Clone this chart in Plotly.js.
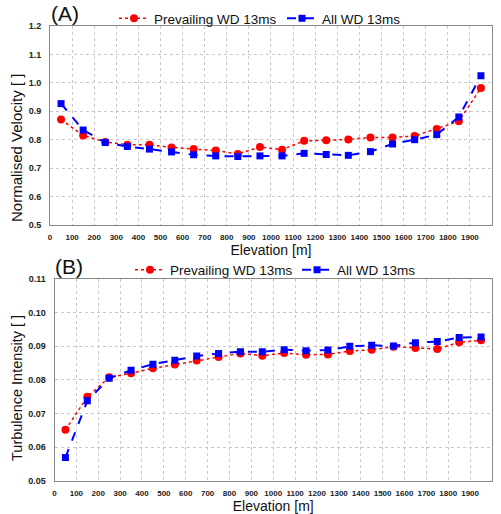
<!DOCTYPE html>
<html>
<head>
<meta charset="utf-8">
<script src="https://cdn.plot.ly/plotly-3.0.1.min.js"></script>
<style>html,body{margin:0;padding:0;background:#fff;}#chart{width:501px;height:514px;}</style>
</head>
<body>
<div id="chart"></div>
<script>
const elevation = [50,150,250,350,450,550,650,750,850,950,1050,1150,1250,1350,1450,1550,1650,1750,1850,1950];
const velPrevailing = [0.871,0.815,0.792,0.782,0.782,0.773,0.767,0.762,0.750,0.774,0.765,0.796,0.798,0.801,0.808,0.808,0.813,0.838,0.865,0.982];
const velAll = [0.927,0.834,0.790,0.776,0.767,0.757,0.747,0.743,0.741,0.743,0.743,0.752,0.748,0.745,0.758,0.785,0.800,0.818,0.880,1.025];
const tiPrevailing = [0.0652,0.0750,0.0808,0.0820,0.0835,0.0846,0.0858,0.0868,0.0879,0.0872,0.0880,0.0875,0.0876,0.0886,0.0890,0.0899,0.0895,0.0892,0.0912,0.0918];
const tiAll = [0.0570,0.0738,0.0805,0.0829,0.0847,0.0859,0.0871,0.0879,0.0884,0.0884,0.0890,0.0887,0.0889,0.0900,0.0903,0.0901,0.0911,0.0914,0.0926,0.0928];
const nameRed = "Prevailing WD 13ms";
const nameBlue = "All WD 13ms";

const F = "Liberation Sans, Arial, sans-serif";
const red = "#ff0000", blue = "#0000ff";

function redTrace(y, xa, ya, lg){
  return {x: elevation, y: y, xaxis: xa, yaxis: ya, legend: lg, name: nameRed, type: "scatter", mode: "lines+markers",
    line: {color: red, width: 1.5, dash: "dot"}, marker: {color: red, symbol: "circle", size: 8}};
}
function blueTrace(y, xa, ya, lg){
  return {x: elevation, y: y, xaxis: xa, yaxis: ya, legend: lg, name: nameBlue, type: "scatter", mode: "lines+markers",
    line: {color: blue, width: 2, dash: "dash"}, marker: {color: blue, symbol: "square", size: 7}};
}

const data = [
  redTrace(velPrevailing, "x", "y", "legend"),
  blueTrace(velAll, "x", "y", "legend"),
  redTrace(tiPrevailing, "x2", "y2", "legend2"),
  blueTrace(tiAll, "x2", "y2", "legend2")
];

function xax(dom, anchor){
  return {domain: dom, anchor: anchor, range: [0,2000], dtick: 100, tick0: 0, showline: true, mirror: true,
    linecolor: "#888", linewidth: 1, showgrid: true, gridcolor: "#c8c8c8", griddash: "dot", gridwidth: 1,
    zeroline: false, ticks: "", ticklabelstandoff: 4,
    tickfont: {family: F, size: 8, color: "#222", weight: "bold"},
    title: {text: "Elevation [m]", font: {family: F, size: 14, color: "#111"}, standoff: 4}};
}
function yax(dom, anchor, rng, dt, fmt){
  return {domain: dom, anchor: anchor, range: rng, dtick: dt, tickformat: fmt, showline: true, mirror: true,
    linecolor: "#888", linewidth: 1, showgrid: true, gridcolor: "#c8c8c8", griddash: "dot", gridwidth: 1,
    zeroline: false, ticks: "", ticklabelstandoff: 6,
    tickfont: {family: F, size: 9, color: "#222", weight: "bold"}};
}

const legendFont = {family: F, size: 13.5, color: "#111"};

const layout = {
  width: 501, height: 514,
  margin: {l: 0, r: 0, t: 0, b: 0},
  paper_bgcolor: "#fff", plot_bgcolor: "#fff",
  showlegend: true,
  xaxis: xax([0.0998, 0.982], "y"),
  yaxis: yax([0.5623, 0.9494], "x", [0.5, 1.2], 0.1, ".1f"),
  xaxis2: xax([0.1088, 0.982], "y2"),
  yaxis2: yax([0.0642, 0.4572], "x2", [0.05, 0.11], 0.01, ".2f"),
  legend: {orientation: "h", x: 114/501, y: 0.964, xanchor: "left", yanchor: "middle", bgcolor: "rgba(0,0,0,0)",
    font: legendFont, itemwidth: 30, entrywidth: 123},
  legend2: {orientation: "h", x: 130/501, y: 0.475, xanchor: "left", yanchor: "middle", bgcolor: "rgba(0,0,0,0)",
    font: legendFont, itemwidth: 30, entrywidth: 122},
  annotations: [
    {text: "(A)", xref: "paper", yref: "paper", x: 0.097, y: 1.0, xanchor: "left", yanchor: "top", showarrow: false,
     font: {family: F, size: 21, color: "#111"}},
    {text: "(B)", xref: "paper", yref: "paper", x: 0.105, y: 0.507, xanchor: "left", yanchor: "top", showarrow: false,
     font: {family: F, size: 21, color: "#111"}},
    {text: "Normalised Velocity [ ]", xref: "paper", yref: "paper", x: 16/501, y: 1 - 148/514, xanchor: "center", yanchor: "middle",
     textangle: -90, showarrow: false, font: {family: F, size: 15, color: "#111"}},
    {text: "Turbulence Intensity [ ]", xref: "paper", yref: "paper", x: 17/501, y: 1 - 388/514, xanchor: "center", yanchor: "middle",
     textangle: -90, showarrow: false, font: {family: F, size: 14.5, color: "#111"}}
  ]
};

Plotly.newPlot("chart", data, layout, {displayModeBar: false, staticPlot: true});
</script>
</body>
</html>
